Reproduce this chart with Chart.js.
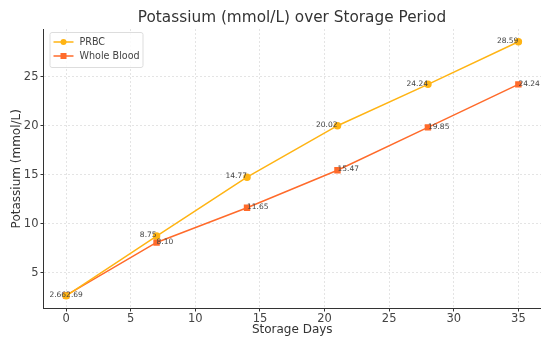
<!DOCTYPE html>
<html>
<head>
<meta charset="utf-8">
<script src="https://cdn.jsdelivr.net/npm/chart.js@4/dist/chart.umd.min.js"></script>
<style>
  html, body { margin: 0; padding: 0; background: #fff; }
</style>
</head>
<body>
<canvas id="linechart" width="541" height="337"></canvas>
<script>
var storageDays = [0, 7, 14, 21, 28, 35],
prbcData = [2.66, 8.75, 14.77, 20.02, 24.24, 28.59],
wholeBloodData = [2.69, 8.10, 11.65, 15.47, 19.85, 24.24],
xTicks = [0, 5, 10, 15, 20, 25, 30, 35],
yTicks = [5, 10, 15, 20, 25];

var chartTitle = "Potassium (mmol/L) over Storage Period";
var font = "DejaVu Sans";

function toPoints(values) {
  return storageDays.map((d, i) => ({ x: d, y: values[i] }));
}

// value labels next to each point
const pointLabels = {
  id: "pointLabels",
  afterDatasetsDraw(chart) {
    const ctx = chart.ctx;
    ctx.save();
    ctx.font = "7.5px '" + font + "'";
    ctx.fillStyle = "#444";
    ctx.textBaseline = "bottom";
    chart.data.datasets.forEach((ds, i) => {
      const meta = chart.getDatasetMeta(i);
      meta.data.forEach((pt, j) => {
        ctx.textAlign = i === 0 ? "right" : "left";
        ctx.fillText(ds.data[j].y.toFixed(2), pt.x, pt.y + 3);
      });
    });
    ctx.restore();
  },
};

// title + legend box drawn like matplotlib
const decorations = {
  id: "decorations",
  afterDraw(chart) {
    const ctx = chart.ctx;
    ctx.save();
    ctx.fillStyle = "#333";
    ctx.font = "15.3px '" + font + "'";
    ctx.textAlign = "center";
    ctx.textBaseline = "middle";
    ctx.fillText(chartTitle, 292, 18);

    // legend
    const lx = chart.chartArea.left + 6, ly = chart.chartArea.top + 3;
    ctx.fillStyle = "rgba(255,255,255,0.85)";
    ctx.strokeStyle = "#ddd";
    ctx.lineWidth = 1;
    ctx.beginPath();
    ctx.roundRect(lx + 0.5, ly + 0.5, 93, 35, 2);
    ctx.fill();
    ctx.stroke();
    ctx.font = "9.6px '" + font + "'";
    ctx.textAlign = "left";
    chart.data.datasets.forEach((ds, i) => {
      const y = ly + 10 + i * 14;
      ctx.strokeStyle = ds.borderColor;
      ctx.lineWidth = 1.5;
      ctx.beginPath();
      ctx.moveTo(lx + 4, y);
      ctx.lineTo(lx + 24, y);
      ctx.stroke();
      ctx.fillStyle = ds.backgroundColor;
      if (ds.pointStyle === "rect") {
        ctx.fillRect(lx + 11, y - 3, 6, 6);
      } else {
        ctx.beginPath();
        ctx.arc(lx + 14, y, 3, 0, Math.PI * 2);
        ctx.fill();
      }
      ctx.fillStyle = "#444";
      ctx.fillText(ds.label, lx + 30, y);
    });
    ctx.restore();
  },
};

let ctx = document.getElementById("linechart").getContext("2d");

let chart = new Chart(ctx, {
  type: "line",
  data: {
    datasets: [
      {
        label: "PRBC",
        data: toPoints(prbcData),
        borderColor: "#FFB414",
        backgroundColor: "#FFB414",
        borderWidth: 1.5,
        pointStyle: "circle",
        pointRadius: 3,
        tension: 0,
      },
      {
        label: "Whole Blood",
        data: toPoints(wholeBloodData),
        borderColor: "#FF6B2B",
        backgroundColor: "#FF6B2B",
        borderWidth: 1.5,
        pointStyle: "rect",
        pointRadius: 3.5,
        tension: 0,
      },
    ],
  },
  options: {
    responsive: false,
    animation: false,
    layout: { autoPadding: false, padding: { top: 29, right: 0, left: 0, bottom: 0 } },
    plugins: {
      legend: { display: false },
      title: { display: false },
      tooltip: { enabled: false },
    },
    scales: {
      x: {
        type: "linear",
        min: -1.75,
        max: 36.75,
        afterBuildTicks: (s) => { s.ticks = xTicks.map((v) => ({ value: v })); },
        afterFit: (s) => { s.height = 28.5; s.paddingLeft = 0; s.paddingRight = 0; },
        ticks: { color: "#444", font: { family: font, size: 11.5 }, padding: 1 },
        grid: { color: "#e4e4e4", tickColor: "#333", tickLength: 3, tickBorderDash: [] },
        border: { display: true, color: "#333", width: 1, dash: [2, 2] },
        title: {
          display: true,
          text: "Storage Days",
          color: "#333",
          font: { family: font, size: 12 },
          padding: { top: -3, bottom: 0 },
        },
      },
      y: {
        min: 1.36,
        max: 29.89,
        afterBuildTicks: (s) => { s.ticks = yTicks.map((v) => ({ value: v })); },
        afterFit: (s) => { s.width = 43.5; s.paddingTop = 0; s.paddingBottom = 0; },
        ticks: { color: "#444", font: { family: font, size: 11.5 }, padding: 2 },
        grid: { color: "#e4e4e4", tickColor: "#333", tickLength: 3, tickBorderDash: [] },
        border: { display: true, color: "#333", width: 1, dash: [2, 2] },
        title: {
          display: true,
          text: "Potassium (mmol/L)",
          color: "#333",
          font: { family: font, size: 12 },
          padding: { top: 10, bottom: 0 },
        },
      },
    },
  },
  plugins: [pointLabels, decorations],
});
</script>
</body>
</html>
